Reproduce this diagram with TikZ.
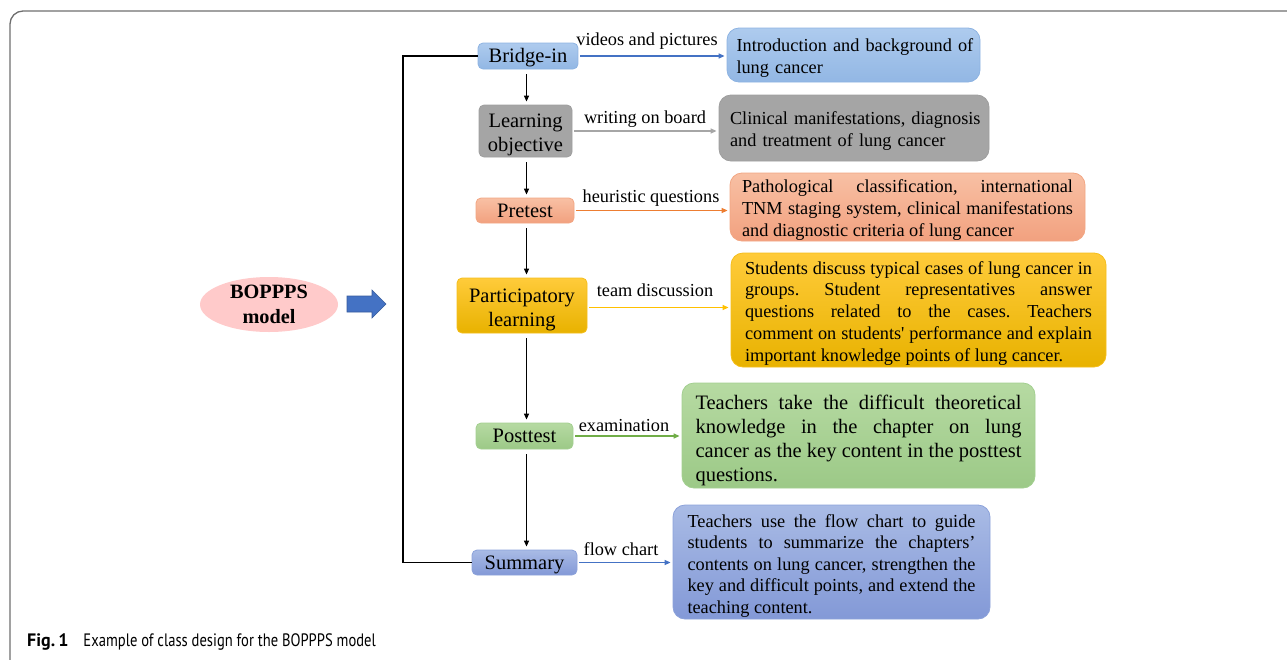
\documentclass[tikz,border=0pt]{standalone}
\usepackage{fontspec}
\setmainfont{Liberation Serif}
\newfontfamily\capfont[FakeStretch=0.81]{PT Sans}
\newfontfamily\capbold{PT Sans}
\newfontfamily\sq[Ligatures=TeXOff]{Liberation Serif}
\usetikzlibrary{arrows.meta,shapes.geometric}
\definecolor{blueT}{HTML}{AECBEE}\definecolor{blueB}{HTML}{92B7E4}\definecolor{blueD}{HTML}{8DB3E2}
\definecolor{grayF}{HTML}{A5A5A5}\definecolor{grayD}{HTML}{9E9E9E}
\definecolor{salT}{HTML}{F8C0A4}\definecolor{salB}{HTML}{F2A17F}\definecolor{salD}{HTML}{F2A683}
\definecolor{goldT}{HTML}{FFCB3A}\definecolor{goldB}{HTML}{E8B200}\definecolor{goldD}{HTML}{F5BE1B}
\definecolor{grT}{HTML}{B6DAA2}\definecolor{grB}{HTML}{9CC987}\definecolor{grD}{HTML}{A3CF90}
\definecolor{suT}{HTML}{A9BBE5}\definecolor{suB}{HTML}{8399D7}\definecolor{suD}{HTML}{8CA2DA}
\definecolor{arBlue}{HTML}{4472C4}\definecolor{arGray}{HTML}{A6A6A6}\definecolor{arOr}{HTML}{ED7D31}
\definecolor{arGold}{HTML}{FFC000}\definecolor{arGreen}{HTML}{70AD47}
\definecolor{pinkF}{HTML}{FFCACA}\definecolor{frameC}{HTML}{6E6E6E}
\newcommand{\tstrut}[1]{\rule{0pt}{#1pt}}
\tikzset{
  lbox/.style={rounded corners=5pt, draw, line width=0.8pt, inner sep=0pt, align=center,
    font=\fontsize{20.5}{24}\selectfont},
  onel/.style={text height=18pt, text depth=5pt},
  rbox/.style={rounded corners=12pt, draw, line width=0.8pt, inner sep=0pt,
    font=\fontsize{18.3}{22}\selectfont\frenchspacing},
  lab/.style={font=\fontsize{18.3}{22}\selectfont, inner sep=0pt},
  conn/.style={line width=1.3pt, -{Triangle[length=6pt,width=5pt]}, shorten <=2pt, shorten >=2pt},
  vconn/.style={line width=1.2pt, black, -{Triangle[length=6pt,width=5pt]}, shorten <=5pt, shorten >=3pt},
}
\begin{document}
\begin{tikzpicture}[x=1pt,y=-1pt]
\useasboundingbox (0,0) rectangle (1287,659);
% frame
\draw[frameC, line width=1.3pt, rounded corners=13pt] (10,662) -- (10,11) -- (1290,11);

% left nodes
\node[lbox, onel, draw=blueD, top color=blueT, bottom color=blueB, minimum width=100, minimum height=26] (bridge) at (528,56) {Bridge-in};
\node[lbox, draw=grayD, fill=grayF, minimum width=93, minimum height=52, text width=90] (learn) at (525.5,131) {\tstrut{22}Learning\\objective};
\node[lbox, onel, draw=salD, top color=salT, bottom color=salB, minimum width=98, minimum height=25] (pre) at (525,210.5) {Pretest};
\node[lbox, draw=goldD, top color=goldT, bottom color=goldB, minimum width=130, minimum height=55, text width=126] (part) at (522,305.5) {\tstrut{21.5}Participatory\\learning};
\node[lbox, onel, draw=grD, top color=grT, bottom color=grB, minimum width=97, minimum height=26] (post) at (524.5,436) {Posttest};
\node[lbox, onel, draw=suD, top color=suT, bottom color=suB, minimum width=105, minimum height=25] (summ) at (524.5,562.5) {Summary};

% right boxes
\node[rbox, draw=blueD, top color=blueT, bottom color=blueB, minimum width=253, minimum height=54, text width=234, align=left] (intro) at (853.5,55)
  {\tstrut{19.5}\hbox{Introduction and background of}\\lung cancer};
\node[rbox, draw=grayD, fill=grayF, minimum width=270, minimum height=66, text width=248, align=left] (clin) at (854,128)
  {\tstrut{18.5}\hbox{Clinical manifestations, diagnosis}\\and treatment of lung cancer};
\node[rbox, draw=salD, top color=salT, bottom color=salB, minimum width=355, minimum height=68, text width=331, align=justify] (path) at (907.5,207)
  {\tstrut{19.5}Pathological classification, international\linebreak TNM staging system, clinical manifestations\linebreak and diagnostic criteria of lung cancer};
\node[rbox, draw=goldD, top color=goldT, bottom color=goldB, minimum width=375, minimum height=114, text width=347, align=justify,
  font=\fontsize{18.3}{21.8}\selectfont\frenchspacing] (stud) at (918.5,310)
  {\tstrut{19.5}Students discuss typical cases of lung cancer in\linebreak groups. Student representatives answer\linebreak questions related to the cases. Teachers\linebreak comment on students{\sq'} performance and explain\linebreak important knowledge points of lung cancer.};
\node[rbox, draw=grD, top color=grT, bottom color=grB, minimum width=353, minimum height=105, text width=326, align=justify,
  font=\fontsize{20.5}{24}\selectfont\frenchspacing] (green) at (858.5,435.5)
  {\tstrut{23.5}Teachers take the difficult theoretical\linebreak knowledge in the chapter on lung\linebreak cancer as the key content in the posttest\linebreak questions.};
\node[rbox, draw=suD, top color=suT, bottom color=suB, minimum width=317, minimum height=114, text width=288, align=justify,
  font=\fontsize{18.3}{21.6}\selectfont\frenchspacing] (sumr) at (831.5,562)
  {\tstrut{20.5}Teachers use the flow chart to guide\linebreak students to summarize the chapters’\linebreak contents on lung cancer, strengthen the\linebreak key and difficult points, and extend the\linebreak teaching content.};

% horizontal connectors
\draw[conn, arBlue] (bridge.east) -- (bridge.east -| intro.west);
\draw[conn, arGray] (learn.east) -- (learn.east -| clin.west);
\draw[conn, arOr] (pre.east) -- (pre.east -| path.west);
\draw[conn, arGold] ([yshift=-2pt]part.east) -- ([yshift=-2pt]part.east -| stud.west);
\draw[conn, arGreen] (post.east) -- (post.east -| green.west);
\draw[conn, arBlue] (summ.east) -- (summ.east -| sumr.west);

% labels
\node[lab] (l1) at (647,41) {videos and pictures};
\node[lab] (l2) at (645,119) {writing on board};
\node[lab] (l3) at (651,198) {heuristic questions};
\node[lab] (l4) at (655,290) {team discussion};
\node[lab] (l5) at (624,426) {examination};
\node[lab] (l6) at (621,549) {flow chart};

% vertical connectors
\coordinate (ax) at (526.5,0);
\draw[vconn] (bridge.south -| ax) -- (learn.north -| ax);
\draw[vconn] (learn.south -| ax) -- (pre.north -| ax);
\draw[vconn] (pre.south -| ax) -- (part.north -| ax);
\draw[vconn] (part.south -| ax) -- (post.north -| ax);
\draw[vconn] (post.south -| ax) -- (summ.north -| ax);

% bracket
\coordinate (bl) at (403,56);
\draw[line width=1.6pt] (bridge.west) -- (bl) |- (summ.west);

% BOPPPS
\node[ellipse, fill=pinkF, minimum width=138, minimum height=55, inner sep=0pt, align=center,
  font=\fontsize{20.3}{25}\selectfont\bfseries] (bop) at (269,304.5) {BOPPPS\\model};
\draw[fill=arBlue, draw=arBlue!80!black, line width=0.6pt]
  (347,296) -- (372,296) -- (372,290) -- (386,304) -- (372,318) -- (372,312) -- (347,312) -- cycle;

% caption
\node[anchor=base west, inner sep=0pt, font=\fontsize{18}{20}\selectfont] (cap) at (27,646)
  {{\capbold\bfseries Fig.\,1}\hspace{15pt}{\capfont Example of class design for the BOPPPS model}};
\end{tikzpicture}
\end{document}
